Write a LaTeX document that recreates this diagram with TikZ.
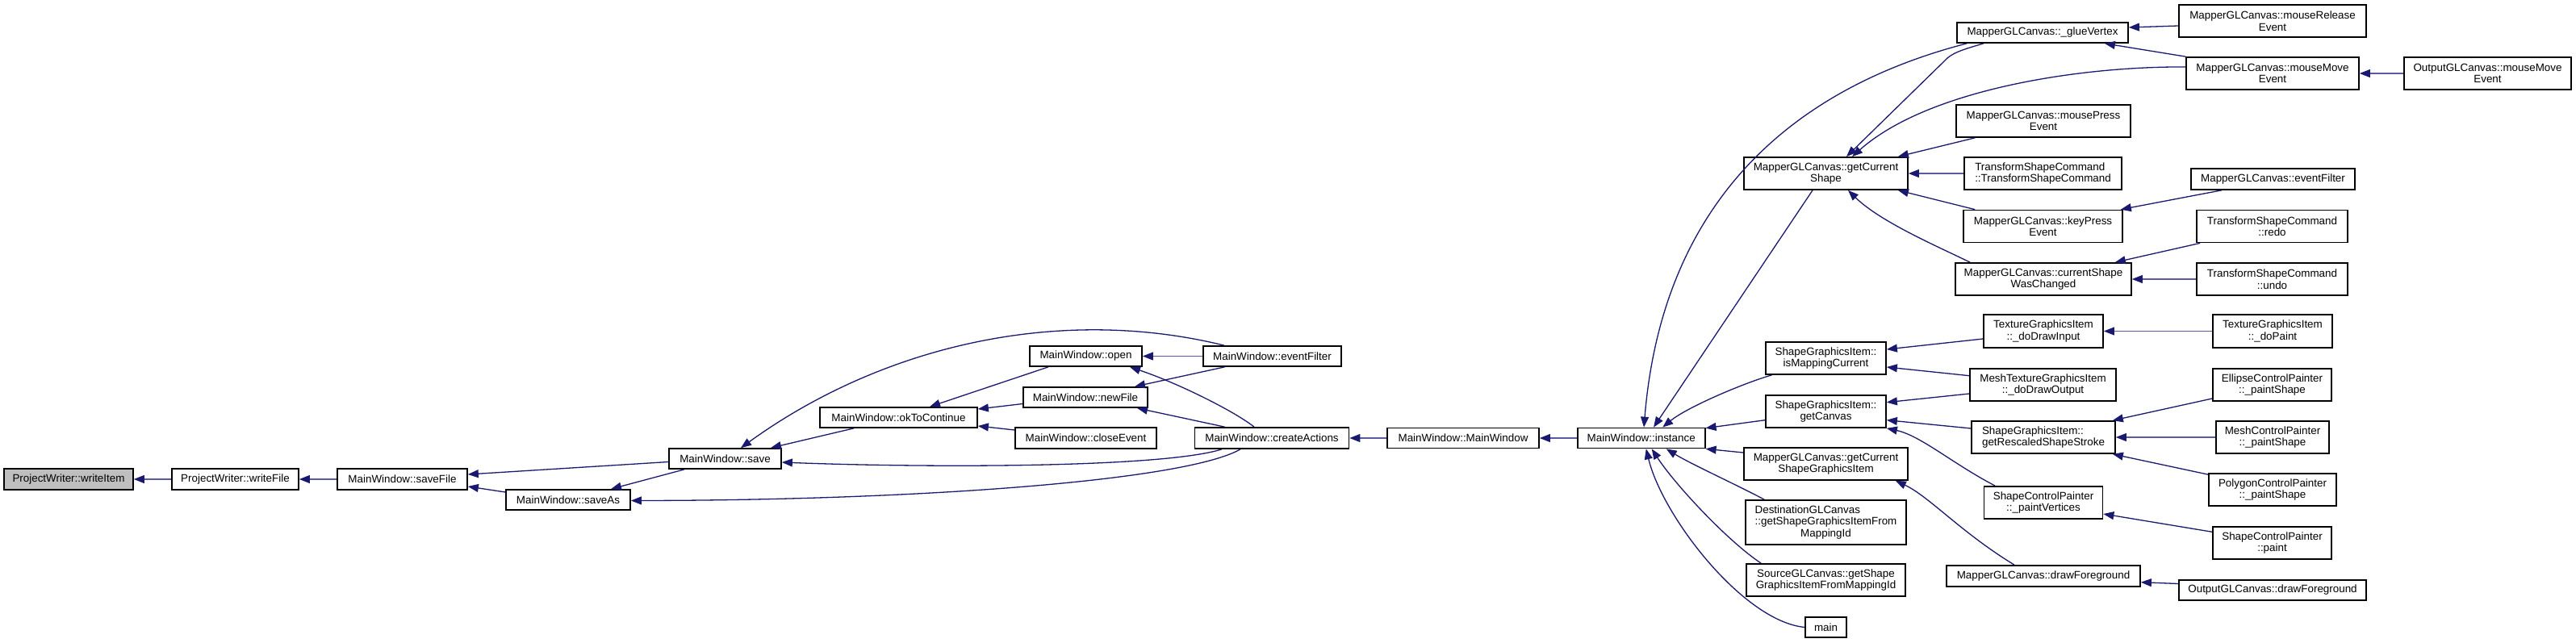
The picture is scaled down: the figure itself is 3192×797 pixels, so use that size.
\documentclass[tikz,border=0pt]{standalone}
\usepackage{fontspec}
\setmainfont{Liberation Sans}
\usetikzlibrary{arrows.meta,calc}
\definecolor{mblue}{HTML}{191970}
\definecolor{hblue}{HTML}{5A5AA2}
\definecolor{hgray}{HTML}{BFBFBF}
\tikzset{
  box/.style={draw=black, line width=1.7pt, fill=white, inner sep=0pt, align=center,
    font=\fontsize{13.4}{14.5}\selectfont},
  edge/.style={draw=mblue, line width=1.3pt, -{Triangle[length=13pt,width=10pt,color=mblue,line width=1pt]}},
  hedge/.style={edge, draw=hblue, line width=1.8pt},
}
\begin{document}
\begin{tikzpicture}[x=1pt,y=-1pt]
\path[fill=white,use as bounding box] (0,0) rectangle (3192,797);
% nodes
\node[box,fill=hgray,minimum width=160pt,minimum height=26pt] (n1) at (85,594) {ProjectWriter::writeItem};
\node[box,minimum width=157pt,minimum height=26pt] (n2) at (291.5,594) {ProjectWriter::writeFile};
\node[box,minimum width=161pt,minimum height=26pt] (n3) at (498.5,594) {MainWindow::saveFile};
\node[box,minimum width=154pt,minimum height=25pt] (n4) at (704,619.5) {MainWindow::saveAs};
\node[box,minimum width=139pt,minimum height=25pt] (n5) at (898.5,568.5) {MainWindow::save};
\node[box,minimum width=195pt,minimum height=25pt] (n6) at (1113.5,517.5) {MainWindow::okToContinue};
\node[box,minimum width=139pt,minimum height=25pt] (n7) at (1345.5,441.5) {MainWindow::open};
\node[box,minimum width=154pt,minimum height=25pt] (n8) at (1345,492.5) {MainWindow::newFile};
\node[box,minimum width=175pt,minimum height=26pt] (n9) at (1345.5,543) {MainWindow::closeEvent};
\node[box,minimum width=171pt,minimum height=25pt] (n10) at (1576.5,441.5) {MainWindow::eventFilter};
\node[box,minimum width=191pt,minimum height=26pt] (n11) at (1576,543) {MainWindow::createActions};
\node[box,minimum width=188pt,minimum height=25pt] (n12) at (1813,543) {MainWindow::MainWindow};
\node[box,minimum width=158pt,minimum height=25pt] (n13) at (2033.7,543) {MainWindow::instance};
\node[box,minimum width=203pt,minimum height=40pt] (n14) at (2262.5,215) {MapperGLCanvas::getCurrent\\Shape};
\node[box,minimum width=149pt,minimum height=40pt] (n15) at (2262.5,444) {ShapeGraphicsItem::\\isMappingCurrent};
\node[box,minimum width=149pt,minimum height=40pt] (n16) at (2262.5,510) {ShapeGraphicsItem::\\getCanvas};
\node[box,minimum width=203pt,minimum height=40pt] (n17) at (2262.5,575) {MapperGLCanvas::getCurrent\\ShapeGraphicsItem};
\node[box,minimum width=199pt,minimum height=55pt] (n18) at (2262.5,647.5) {\begin{tabular}{@{}l@{}}DestinationGLCanvas\\::getShapeGraphicsItemFrom\end{tabular}\\MappingId};
\node[box,minimum width=197pt,minimum height=40pt] (n19) at (2262.5,719) {SourceGLCanvas::getShape\\GraphicsItemFromMappingId};
\node[box,minimum width=51pt,minimum height=25pt] (n20) at (2262.5,777.5) {main};
\node[box,minimum width=212pt,minimum height=25pt] (n21) at (2531,40.5) {MapperGLCanvas::\_glueVertex};
\node[box,minimum width=216pt,minimum height=40pt] (n22) at (2532,150) {MapperGLCanvas::mousePress\\Event};
\node[box,align=left,minimum width=195pt,minimum height=40pt] (n23) at (2531.5,215) {TransformShapeCommand\\::TransformShapeCommand};
\node[box,minimum width=197pt,minimum height=40pt] (n24) at (2531.5,280.5) {MapperGLCanvas::keyPress\\Event};
\node[box,minimum width=218pt,minimum height=40pt] (n25) at (2532,346) {MapperGLCanvas::currentShape\\WasChanged};
\node[box,minimum width=148pt,minimum height=41pt] (n26) at (2532,410.5) {TextureGraphicsItem\\::\_doDrawInput};
\node[box,minimum width=181pt,minimum height=40pt] (n27) at (2531.5,477) {MeshTextureGraphicsItem\\::\_doDrawOutput};
\node[box,align=left,minimum width=178pt,minimum height=40pt] (n28) at (2532,542) {ShapeGraphicsItem::\\getRescaledShapeStroke};
\node[box,minimum width=147pt,minimum height=40pt] (n29) at (2532,623) {ShapeControlPainter\\::\_paintVertices};
\node[box,minimum width=240pt,minimum height=26pt] (n30) at (2532,714) {MapperGLCanvas::drawForeground};
\node[box,minimum width=232pt,minimum height=40pt] (n31) at (2816,26) {MapperGLCanvas::mouseRelease\\Event};
\node[box,minimum width=214pt,minimum height=40pt] (n32) at (2816,91) {MapperGLCanvas::mouseMove\\Event};
\node[box,minimum width=203pt,minimum height=26pt] (n33) at (2816.5,222) {MapperGLCanvas::eventFilter};
\node[box,minimum width=187pt,minimum height=40pt] (n34) at (2815.5,280.5) {TransformShapeCommand\\::redo};
\node[box,minimum width=187pt,minimum height=40pt] (n35) at (2815.5,346) {TransformShapeCommand\\::undo};
\node[box,minimum width=148pt,minimum height=41pt] (n36) at (2816,410.5) {TextureGraphicsItem\\::\_doPaint};
\node[box,minimum width=147pt,minimum height=40pt] (n37) at (2815.5,477) {EllipseControlPainter\\::\_paintShape};
\node[box,minimum width=140pt,minimum height=40pt] (n38) at (2816,542) {MeshControlPainter\\::\_paintShape};
\node[box,minimum width=158pt,minimum height=40pt] (n39) at (2816,607) {PolygonControlPainter\\::\_paintShape};
\node[box,minimum width=147pt,minimum height=40pt] (n40) at (2815.5,673) {ShapeControlPainter\\::paint};
\node[box,minimum width=232pt,minimum height=25pt] (n41) at (2816,731.5) {OutputGLCanvas::drawForeground};
\node[box,minimum width=207pt,minimum height=40pt] (n42) at (3082.5,91) {OutputGLCanvas::mouseMove\\Event};
% edges
\draw[hedge] (n2.west) -- (n1.east);
\draw[hedge] (n3.west) -- (n2.east);
\draw[edge] ($(n5.west)+(0,4)$) -- ($(n3.east)+(0,-6)$);
\draw[edge] ($(n4.west)+(0,-9.5)$) -- ($(n3.east)+(0,9)$);
\draw[edge] ($(n5.south)+(-50.5,0)$) -- ($(n4.north)+(53,0)$);
\draw[edge] ($(n6.south)+(-55.5,0)$) -- ($(n5.north)+(56.5,0)$);
\draw[edge] ($(n10.north)+(-59.5,0)$) .. controls (1313,378) and (1094,428) .. ($(n5.north)+(19.5,0)$);
\draw[edge] ($(n11.south)+(-62,0)$) .. controls (1440,580) and (1150,580) .. ($(n5.east)+(0,4.5)$);
\draw[edge] ($(n11.south)+(-39,0)$) .. controls (1470,595) and (1150,620) .. ($(n4.east)+(0,1)$);
\draw[edge] ($(n7.south)+(-46.5,0)$) -- ($(n6.north)+(38.5,0)$);
\draw[edge] ($(n8.west)+(0,8)$) -- ($(n6.east)+(0,-10.5)$);
\draw[edge] ($(n9.west)+(0,-10)$) -- ($(n6.east)+(0,10.5)$);
\draw[hedge] (n10.west) -- (n7.east);
\draw[edge] ($(n10.south)+(-59,0)$) -- ($(n8.north)+(61,0)$);
\draw[edge] ($(n11.north)+(-22,0)$) .. controls (1530,510) and (1460,475) .. ($(n7.south)+(54.5,0)$);
\draw[edge] ($(n11.north)+(-58.5,0)$) -- ($(n8.south)+(64,0)$);
\draw[hedge] (n12.west) -- (n11.east);
\draw[hedge] (n13.west) -- (n12.east);
% to instance
\draw[edge] ($(n16.west)+(0,10.7)$) -- ($(n13.north east)+(0,1)$);
\draw[edge] ($(n17.west)+(0,-14)$) -- (n13.south east);
\draw[edge] ($(n15.south)+(-67,0)$) .. controls (2160,475) and (2090,505) .. ($(n13.north)+(26.5,0)$);
\draw[edge] ($(n14.south)+(-16.5,0)$) -- ($(n13.north)+(15.3,0)$);
\draw[edge] ($(n21.south west)+(13,0)$) .. controls (2220,110) and (2060,250) .. ($(n13.north)+(3.3,0)$);
\draw[edge] ($(n18.north west)+(24,0)$) .. controls (2150,600) and (2095,575) .. ($(n13.south)+(31,0)$);
\draw[edge] ($(n19.north west)+(19,0)$) .. controls (2140,670) and (2075,600) .. ($(n13.south)+(13,0)$);
\draw[edge] (n20.west) .. controls (2160,770) and (2060,640) .. ($(n13.south)+(6,0)$);
% to getCurrentShape
\draw[edge] ($(n21.south)+(-73,0)$) .. controls (2430,62) and (2418,66) .. (2410,75) -- ($(n14.north)+(25.5,0)$);
\draw[edge] ($(n32.west)+(0,-8)$) .. controls (2580,82) and (2390,110) .. ($(n14.north)+(32.5,0)$);
\draw[edge] ($(n22.south west)+(24,0)$) -- ($(n14.north east)+(-13,0)$);
\draw[hedge] (n23.west) -- (n14.east);
\draw[edge] ($(n24.north west)+(15,0)$) -- ($(n14.south east)+(-13,0)$);
\draw[edge] ($(n25.north west)+(19,0)$) .. controls (2400,305) and (2330,275) .. ($(n14.south)+(27.5,0)$);
% right part
\draw[edge] ($(n31.west)+(0,6)$) -- ($(n21.east)+(0,-6.5)$);
\draw[edge] (n32.north west) -- ($(n21.south east)+(-30,0)$);
\draw[hedge] (n42.west) -- (n32.east);
\draw[edge] ($(n33.south west)+(38.6,0)$) -- ($(n24.north east)+(-3,0)$);
\draw[edge] ($(n34.south west)+(5,0)$) -- ($(n25.north east)+(-21,0)$);
\draw[hedge] (n35.west) -- (n25.east);
\draw[hedge] (n36.west) -- (n26.east);
\draw[edge] ($(n26.west)+(0,9.5)$) -- ($(n15.east)+(0,-11)$);
\draw[edge] ($(n27.west)+(0,-11.3)$) -- ($(n15.east)+(0,11)$);
\draw[edge] ($(n27.west)+(0,11)$) -- ($(n16.east)+(0,-11.3)$);
\draw[edge] ($(n28.west)+(0,-11)$) -- ($(n16.east)+(0,10.7)$);
\draw[edge] ($(n29.north west)+(14.5,0)$) .. controls (2420,575) and (2380,540) .. (n16.south east);
\draw[edge] ($(n30.north)+(-36,0)$) .. controls (2430,660) and (2390,615) .. ($(n17.south east)+(-16,0)$);
\draw[edge] ($(n37.west)+(0,17)$) -- ($(n28.north east)+(-4,0)$);
\draw[hedge] (n38.west) -- (n28.east);
\draw[edge] ($(n39.north west)+(0,2)$) -- ($(n28.south east)+(-4,0)$);
\draw[edge] ($(n40.west)+(0,-13.7)$) -- ($(n29.east)+(0,14)$);
\draw[edge] ($(n41.west)+(0,-8)$) -- ($(n30.east)+(0,7.7)$);
\end{tikzpicture}
\end{document}
